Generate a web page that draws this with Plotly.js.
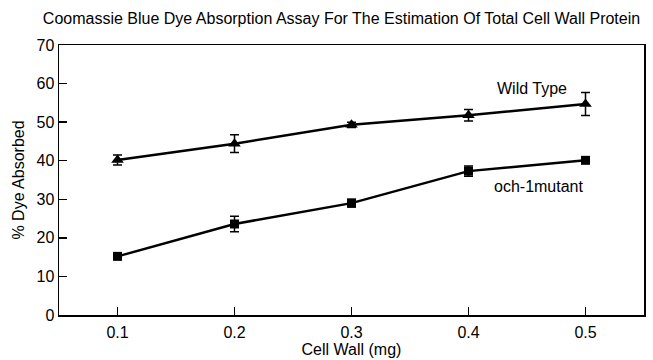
<!DOCTYPE html>
<html>
<head>
<meta charset="utf-8">
<script src="https://cdn.plot.ly/plotly-3.0.1.min.js"></script>
<style>html,body{margin:0;padding:0;background:#fff;}#chart{width:653px;height:360px;}</style>
</head>
<body>
<div id="chart"></div>
<script>
const cellWall = [0.1, 0.2, 0.3, 0.4, 0.5];
const wildType = [40.2, 44.4, 49.3, 51.8, 54.7];
const wildTypeErr = [1.3, 2.3, 0.7, 1.5, 3.0];
const och1 = [15.2, 23.6, 29.0, 37.3, 40.1];
const och1Err = [0.7, 2.0, 1.0, 1.3, 0.5];
const xTicks = [0.1, 0.2, 0.3, 0.4, 0.5];
const yTicks = [0, 10, 20, 30, 40, 50, 60, 70];

const font = {family: 'Liberation Sans, Arial, sans-serif', color: '#000'};

const traces = [
  {x: cellWall, y: wildType, type: 'scatter', mode: 'lines+markers', name: 'Wild Type',
   line: {color: '#000', width: 2.5}, marker: {symbol: 'triangle-up', size: 11, color: '#000'},
   error_y: {type: 'data', array: wildTypeErr, visible: true, color: '#000', thickness: 1.5, width: 4.5}},
  {x: cellWall, y: och1, type: 'scatter', mode: 'lines+markers', name: 'och-1mutant',
   line: {color: '#000', width: 2.5}, marker: {symbol: 'square', size: 9, color: '#000'},
   error_y: {type: 'data', array: och1Err, visible: true, color: '#000', thickness: 1.5, width: 4.5}}
];

const layout = {
  width: 653, height: 360,
  margin: {l: 59, r: 9, t: 45, b: 45},
  paper_bgcolor: '#fff', plot_bgcolor: '#fff',
  showlegend: false,
  font: font,
  title: {text: 'Coomassie Blue Dye Absorption Assay For The Estimation Of Total Cell Wall Protein',
          font: {size: 16, family: font.family, color: '#000'}, x: 0.523, xanchor: 'center', y: 0.95, yanchor: 'middle'},
  xaxis: {range: [0.05, 0.55], tickvals: xTicks, ticktext: xTicks.map(v => v.toFixed(1)),
          ticks: 'inside', ticklen: 8, tickwidth: 1.5, tickcolor: '#000',
          showline: true, linecolor: '#000', linewidth: 1.5, mirror: true,
          showgrid: false, zeroline: false, tickfont: {size: 16}, ticklabelstandoff: 2,
          title: {text: 'Cell Wall (mg)', font: {size: 16}, standoff: 2}},
  yaxis: {range: [0, 70], tickvals: yTicks,
          ticks: 'inside', ticklen: 8, tickwidth: 1.5, tickcolor: '#000',
          showline: true, linecolor: '#000', linewidth: 1.5, mirror: true,
          showgrid: false, zeroline: false, tickfont: {size: 16},
          title: {text: '% Dye Absorbed', font: {size: 16}, standoff: 8}},
  annotations: [
    {x: 0.454, y: 58.6, xref: 'x', yref: 'y', text: 'Wild Type', showarrow: false, font: {size: 16}},
    {x: 0.46, y: 33.2, xref: 'x', yref: 'y', text: 'och-1mutant', showarrow: false, font: {size: 16}}
  ]
};

Plotly.newPlot('chart', traces, layout, {displayModeBar: false, staticPlot: true});
</script>
</body>
</html>
